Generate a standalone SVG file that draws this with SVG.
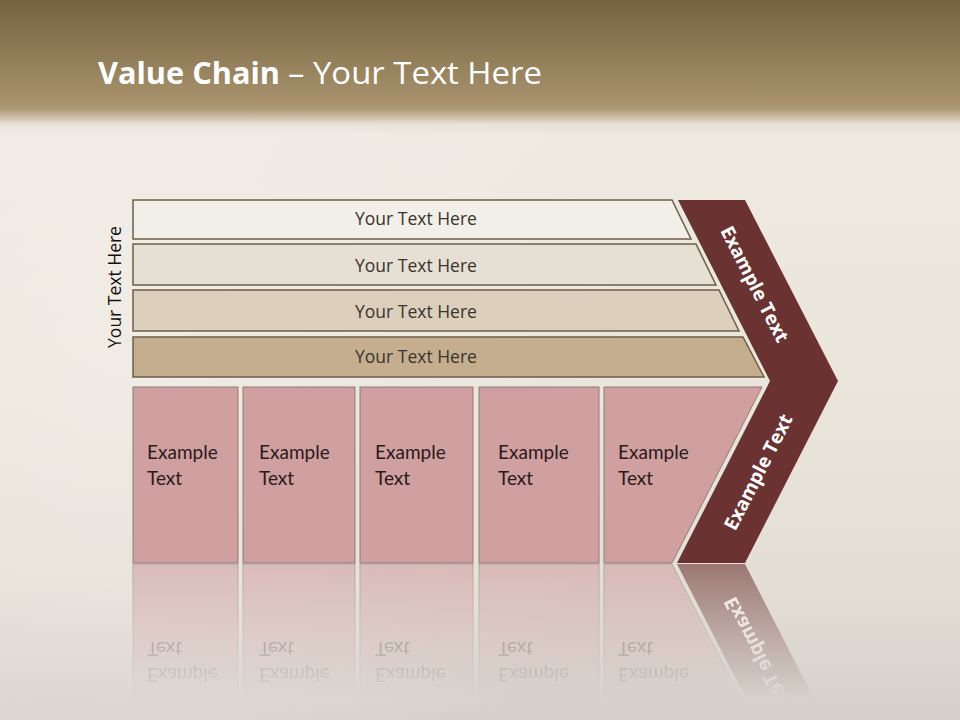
<svg xmlns="http://www.w3.org/2000/svg" xmlns:xlink="http://www.w3.org/1999/xlink" width="960" height="720" viewBox="0 0 960 720">
<defs>
<linearGradient id="bg" x1="0" y1="0" x2="0" y2="720" gradientUnits="userSpaceOnUse">
<stop offset="0" stop-color="#776240"/>
<stop offset="0.145" stop-color="#a8936e"/>
<stop offset="0.152" stop-color="#ae9977"/>
<stop offset="0.172" stop-color="#e6e0d4"/>
<stop offset="0.19" stop-color="#eeeae2"/>
<stop offset="0.5" stop-color="#ebe6dc"/>
<stop offset="0.8" stop-color="#e4dfd6"/>
<stop offset="0.94" stop-color="#d9d5ce"/>
<stop offset="1" stop-color="#d5d1ca"/>
</linearGradient>
<radialGradient id="glow" cx="120" cy="360" r="520" gradientUnits="userSpaceOnUse">
<stop offset="0" stop-color="#f6f3ee" stop-opacity="0.5"/>
<stop offset="1" stop-color="#f6f3ee" stop-opacity="0"/>
</radialGradient>
<linearGradient id="fadeG" x1="0" y1="564" x2="0" y2="700" gradientUnits="userSpaceOnUse">
<stop offset="0" stop-color="#fff" stop-opacity="0.6"/>
<stop offset="1" stop-color="#fff" stop-opacity="0"/>
</linearGradient>
<mask id="fade" maskUnits="userSpaceOnUse" x="0" y="560" width="960" height="160">
<rect x="0" y="560" width="960" height="160" fill="url(#fadeG)"/>
</mask>
<style>
.bar{stroke:#6e5e48;stroke-width:1.5}
.bt{font-family:"Open Sans","Liberation Sans",sans-serif;font-size:17.5px;fill:#3a342e;text-anchor:middle}
.box{fill:#d0a0a1;stroke:#8c7d78;stroke-width:1}
.xt{font-family:Lato,"Liberation Sans",sans-serif;font-size:19px;fill:#2a1a1a}
.chev{fill:#6b3232}
.ct{font-family:"Open Sans","Liberation Sans",sans-serif;font-size:19px;font-weight:bold;fill:#ffffff;text-anchor:middle}
.title{font-family:"Open Sans","Liberation Sans",sans-serif;font-size:31px;fill:#ffffff}
</style>
</defs>
<rect x="0" y="0" width="960" height="720" fill="url(#bg)"/>
<rect x="0" y="125" width="960" height="595" fill="url(#glow)"/>

<g id="title">
<text class="title" x="98" y="84" font-weight="bold" textLength="182" lengthAdjust="spacingAndGlyphs">Value Chain</text>
<text class="title" x="288" y="84" textLength="254" lengthAdjust="spacingAndGlyphs">– Your Text Here</text>
</g>

<g id="side-label">
<text class="bt" transform="translate(121,287) rotate(-90)" x="0" y="0" style="fill:#111">Your Text Here</text>
</g>

<g id="bar1">
<polygon class="bar" fill="#f2eee8" points="133,200 672,200 691,239 133,239"/>
<text class="bt" x="416" y="225">Your Text Here</text>
</g>
<g id="bar2">
<polygon class="bar" fill="#e6dfd3" points="133,244 696,244 716,285 133,285"/>
<text class="bt" x="416" y="272">Your Text Here</text>
</g>
<g id="bar3">
<polygon class="bar" fill="#dccfbb" points="133,290 719,290 739,331 133,331"/>
<text class="bt" x="416" y="318">Your Text Here</text>
</g>
<g id="bar4">
<polygon class="bar" fill="#c4ae8e" points="133,337 743,337 764,377 133,377"/>
<text class="bt" x="416" y="363">Your Text Here</text>
</g>

<g id="activities">
<g id="box1">
<rect class="box" x="133" y="387" width="105" height="176"/>
<text class="xt" x="147" y="459">Example</text>
<text class="xt" x="147" y="485">Text</text>
</g>
<g id="box2">
<rect class="box" x="243" y="387" width="112" height="176"/>
<text class="xt" x="259" y="459">Example</text>
<text class="xt" x="259" y="485">Text</text>
</g>
<g id="box3">
<rect class="box" x="360" y="387" width="113" height="176"/>
<text class="xt" x="375" y="459">Example</text>
<text class="xt" x="375" y="485">Text</text>
</g>
<g id="box4">
<rect class="box" x="479" y="387" width="120" height="176"/>
<text class="xt" x="498" y="459">Example</text>
<text class="xt" x="498" y="485">Text</text>
</g>
<g id="box5">
<polygon class="box" points="604,387 762,387 672,563 604,563"/>
<text class="xt" x="618" y="459">Example</text>
<text class="xt" x="618" y="485">Text</text>
</g>
</g>

<g id="chevron">
<polygon class="chev" points="678,200 745,200 838,381 745,563 677,563 770,381"/>
<text class="ct" transform="translate(755,284) rotate(63)" x="0" y="7">Example Text</text>
<text class="ct" transform="translate(758,472) rotate(-63)" x="0" y="7">Example Text</text>
</g>

<g id="reflection" mask="url(#fade)">
<g transform="matrix(1 0 0 -1 0 1127)">
<use xlink:href="#activities" href="#activities"/>
<polygon class="chev" points="770,381 838,381 745,563 677,563"/>
<text class="ct" transform="translate(758,472) rotate(-63)" x="0" y="7">Example Text</text>
</g>
</g>

<g id="connectors"></g>
</svg>
